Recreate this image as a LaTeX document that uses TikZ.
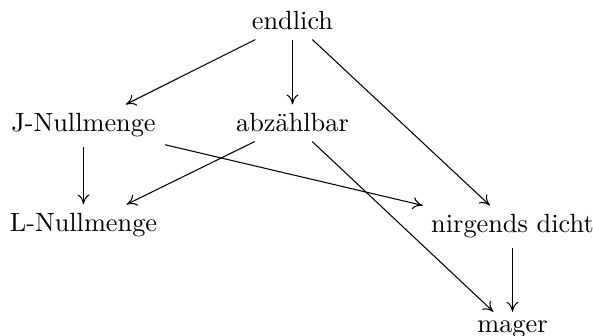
\documentclass[tikz,border=0pt]{standalone}
\usetikzlibrary{arrows.meta}
\tikzset{
  term/.style={anchor=base, inner sep=3.33pt},
  impl/.style={-{To[length=3.8pt, width=4.6pt]}, line width=0.4pt},
}
\begin{document}
\begin{tikzpicture}[x=0.38pt, y=-0.38pt]
  \useasboundingbox (0,0) rectangle (593,336);
  % notions of smallness for subsets of the reals
  \node[term] (endl) at (292.5,30)  {endlich};
  \node[term] (jnull) at (83.5,132) {J-Nullmenge};
  \node[term] (abz)  at (292.5,132) {abzählbar};
  \node[term] (lnull) at (83.5,232) {L-Nullmenge};
  \node[term] (nd)   at (512.5,233) {nirgends dicht};
  \node[term] (mag)  at (512.5,333) {mager};
  % implications
  \draw[impl] (endl) -- (jnull);
  \draw[impl] (endl) -- (abz);
  \draw[impl] (endl) -- (nd);
  \draw[impl] (jnull) -- (lnull);
  \draw[impl] (jnull) -- (nd);
  \draw[impl] (abz) -- (lnull);
  \draw[impl] (abz) -- (mag);
  \draw[impl] (nd) -- (mag);
\end{tikzpicture}
\end{document}
